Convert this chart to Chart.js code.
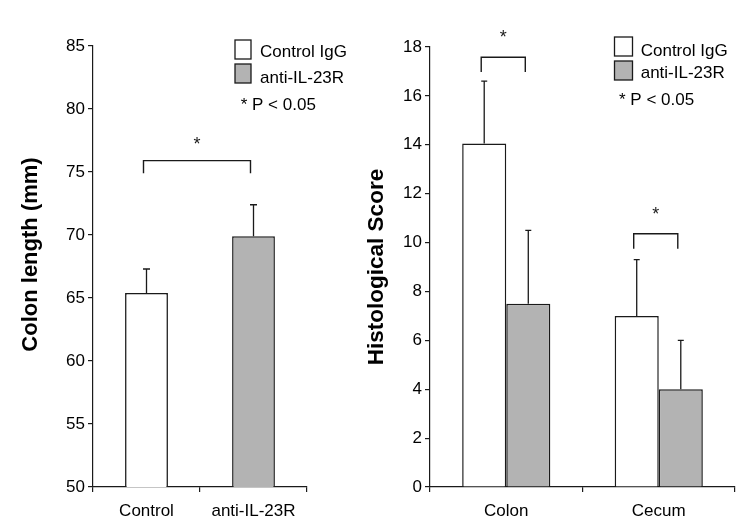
<!DOCTYPE html>
<html><head><meta charset="utf-8">
<script src="https://cdn.jsdelivr.net/npm/chart.js@4"></script>
<style>
html,body{margin:0;padding:0;background:#fff;}
#wrap{position:relative;width:750px;height:531px;overflow:hidden;background:#fff;}
canvas{position:absolute;top:0;}
#c1{left:0;} #c2{left:360px;}
</style></head><body>
<div id="wrap"><canvas id="c1" width="360" height="531"></canvas><canvas id="c2" width="390" height="531"></canvas></div>
<script>
// ---- Left panel data ----
const lengthCategories = ['Control', 'anti-IL-23R'];
const lengthMeans = [65.4, 69.9];
const lengthErrors = [1.9, 2.5];
const lengthTicks = [50, 55, 60, 65, 70, 75, 80, 85];
const lengthBracket = { top: 75.9, end: 74.9, star: 77.6 };

// ---- Right panel data ----
const scoreCategories = ['Colon', 'Cecum'];
const controlScores = [14.05, 7.0];
const controlErrors = [2.55, 2.3];
const antiScores = [7.5, 4.0];
const antiErrors = [3.0, 2.0];
const scoreTicks = [0, 2, 4, 6, 8, 10, 12, 14, 16, 18];
const colonBracket = { top: 17.58, end: 16.98, star: 18.6 };
const cecumBracket = { top: 10.36, end: 9.75, star: 11.33 };

const seriesNames = ['Control IgG', 'anti-IL-23R'];
const pValueNote = '* P < 0.05';

// ---- styles ----
const FONT = "'Liberation Sans', Arial, Helvetica, sans-serif";
const INK = '#1a1a1a';
const WHITE = '#ffffff';
const GRAY = '#b3b3b3';

const errorBarPlugin = {
  id: 'errorBars',
  afterDatasetsDraw(chart, args, opts) {
    const ctx = chart.ctx, ys = chart.scales.y;
    ctx.save();
    ctx.strokeStyle = opts.color; ctx.lineWidth = opts.width;
    opts.errors.forEach((errs, di) => {
      const meta = chart.getDatasetMeta(di);
      const vals = chart.data.datasets[di].data;
      meta.data.forEach((bar, i) => {
        if (errs[i] == null) return;
        const x = bar.x;
        const y0 = ys.getPixelForValue(vals[i]);
        const y1 = ys.getPixelForValue(vals[i] + errs[i]);
        ctx.beginPath();
        ctx.moveTo(x, y0); ctx.lineTo(x, y1);
        ctx.moveTo(x - opts.cap / 2, y1); ctx.lineTo(x + opts.cap / 2, y1);
        ctx.stroke();
      });
    });
    ctx.restore();
  }
};

const bracketPlugin = {
  id: 'brackets',
  afterDraw(chart, args, opts) {
    const ctx = chart.ctx, ys = chart.scales.y;
    ctx.save();
    ctx.strokeStyle = opts.color; ctx.fillStyle = opts.color; ctx.lineWidth = opts.width;
    ctx.font = opts.starSize + 'px ' + FONT;
    ctx.textAlign = 'center'; ctx.textBaseline = 'alphabetic';
    opts.brackets.forEach(b => {
      const x1 = chart.getDatasetMeta(b.from[0]).data[b.from[1]].x + opts.dx;
      const x2 = chart.getDatasetMeta(b.to[0]).data[b.to[1]].x + opts.dx;
      const yt = ys.getPixelForValue(b.level.top);
      const ye = ys.getPixelForValue(b.level.end);
      const yS = ys.getPixelForValue(b.level.star);
      ctx.beginPath();
      ctx.moveTo(x1, ye); ctx.lineTo(x1, yt); ctx.lineTo(x2, yt); ctx.lineTo(x2, ye);
      ctx.stroke();
      ctx.fillText('*', (x1 + x2) / 2, yS + 0.575 * opts.starSize);
    });
    ctx.restore();
  }
};

const legendPlugin = {
  id: 'boxLegend',
  afterDraw(chart, args, o) {
    const ctx = chart.ctx;
    ctx.save();
    ctx.font = o.fontSize + 'px ' + FONT;
    ctx.textAlign = 'left'; ctx.textBaseline = 'alphabetic';
    o.items.forEach((it, i) => {
      ctx.fillStyle = it.fill;
      ctx.fillRect(o.boxX, o.boxY[i], o.boxW, o.boxH);
      ctx.strokeStyle = INK; ctx.lineWidth = 1.3;
      ctx.strokeRect(o.boxX, o.boxY[i], o.boxW, o.boxH);
      ctx.fillStyle = '#000';
      ctx.fillText(it.label, o.textX, o.baselines[i]);
    });
    ctx.fillText(o.note, o.noteX, o.noteBaseline);
    ctx.restore();
  }
};

function axisCommon() {
  return {
    grid: { display: true, drawOnChartArea: false, drawTicks: true, tickLength: 5, color: INK, lineWidth: 1.2 },
    border: { display: true, color: INK, width: 1.2 },
    ticks: { color: '#000', font: { family: FONT, size: 17 } }
  };
}

function makeX(height) {
  const a = axisCommon();
  a.type = 'category';
  a.offset = true;
  a.grid.offset = true;
  a.ticks.padding = 9;
  a.ticks.maxRotation = 0;
  a.afterFit = s => { s.height = height; };
  return a;
}

function makeY(min, max, tickList, title, titleSize, titlePad, width, titleShift) {
  const a = axisCommon();
  a.min = min; a.max = max;
  a.ticks.padding = 3;
  a.afterBuildTicks = s => { s.ticks = tickList.map(v => ({ value: v })); };
  a.afterFit = s => {
    s.width = width;
    if (titleShift && !s._shiftWrapped) {
      const orig = Object.getPrototypeOf(s).drawTitle;
      s.drawTitle = function () {
        this.ctx.save(); this.ctx.translate(0, titleShift);
        orig.call(this);
        this.ctx.restore();
      };
      s._shiftWrapped = true;
    }
  };
  a.title = { display: true, text: title, color: '#000',
    font: { family: FONT, size: titleSize, weight: 'bold' }, padding: { top: titlePad, bottom: 0 } };
  return a;
}

// ---- Left chart ----
new Chart(document.getElementById('c1'), {
  type: 'bar',
  data: {
    labels: lengthCategories,
    datasets: [{
      data: lengthMeans,
      backgroundColor: [WHITE, GRAY],
      borderColor: INK, borderWidth: 1.5,
      categoryPercentage: 0.8, barPercentage: 0.5
    }]
  },
  options: {
    responsive: false, animation: false,
    layout: { padding: { top: 46, right: 53, left: 0, bottom: 0 } },
    scales: {
      x: makeX(44),
      y: makeY(50, 85, lengthTicks, 'Colon length (mm)', 22, 17.8, 93, -12)
    },
    plugins: {
      legend: { display: false }, tooltip: { enabled: false },
      errorBars: { errors: [lengthErrors], color: INK, width: 1.3, cap: 7 },
      brackets: { color: INK, width: 1.4, dx: -3, starSize: 18,
        brackets: [{ from: [0, 0], to: [0, 1], level: lengthBracket }] },
      boxLegend: { fontSize: 17, items: [{ label: seriesNames[0], fill: WHITE }, { label: seriesNames[1], fill: GRAY }],
        boxX: 235, boxY: [40, 64], boxW: 16, boxH: 19, textX: 260, baselines: [56.7, 82.7],
        note: pValueNote, noteX: 240.7, noteBaseline: 110 }
    }
  },
  plugins: [errorBarPlugin, bracketPlugin, legendPlugin]
});

// ---- Right chart ----
new Chart(document.getElementById('c2'), {
  type: 'bar',
  data: {
    labels: scoreCategories,
    datasets: [
      { label: seriesNames[0], data: controlScores, backgroundColor: WHITE, borderColor: INK, borderWidth: 1.5,
        categoryPercentage: 0.578, barPercentage: 1.0 },
      { label: seriesNames[1], data: antiScores, backgroundColor: GRAY, borderColor: INK, borderWidth: 1.5,
        categoryPercentage: 0.578, barPercentage: 1.0 }
    ]
  },
  options: {
    responsive: false, animation: false,
    layout: { padding: { top: 47, right: 15, left: 0, bottom: 0 } },
    scales: {
      x: makeX(44),
      y: makeY(0, 18, scoreTicks, 'Histological Score', 22.5, 3.5, 70, 0)
    },
    plugins: {
      legend: { display: false }, tooltip: { enabled: false },
      errorBars: { errors: [controlErrors, antiErrors], color: INK, width: 1.3, cap: 6 },
      brackets: { color: INK, width: 1.4, dx: -3, starSize: 18,
        brackets: [{ from: [0, 0], to: [1, 0], level: colonBracket }, { from: [0, 1], to: [1, 1], level: cecumBracket }] },
      boxLegend: { fontSize: 17, items: [{ label: seriesNames[0], fill: WHITE }, { label: seriesNames[1], fill: GRAY }],
        boxX: 254.5, boxY: [37, 61], boxW: 18, boxH: 19, textX: 280.7, baselines: [55.5, 78.3],
        note: pValueNote, noteX: 259, noteBaseline: 105 }
    }
  },
  plugins: [errorBarPlugin, bracketPlugin, legendPlugin]
});
</script>
</body></html>
